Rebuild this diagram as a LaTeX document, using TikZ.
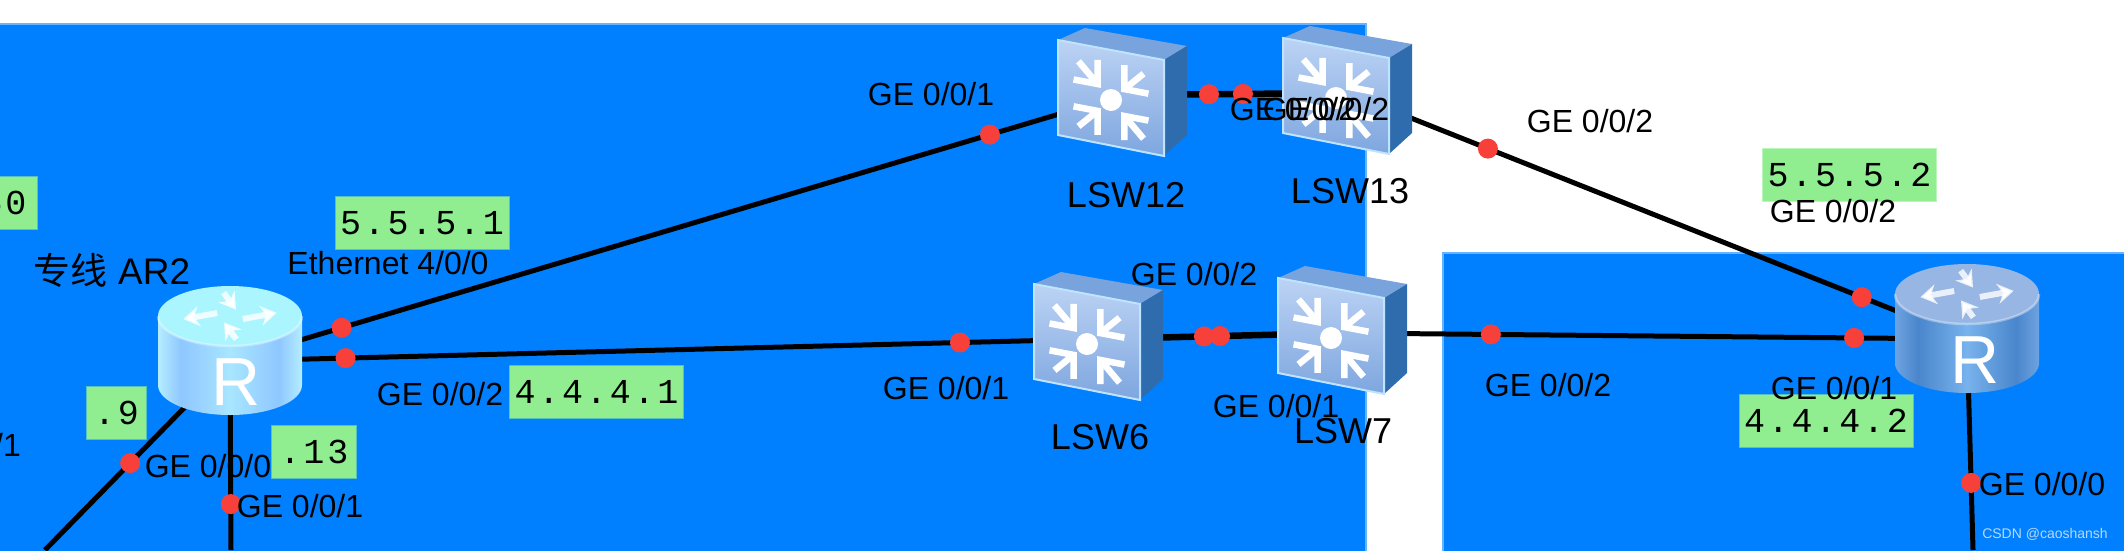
\documentclass[tikz,border=0pt]{standalone}
\usepackage{fontspec}
\setmainfont{Liberation Sans}
\newfontfamily\cjk{Noto Sans CJK SC}
\newfontfamily\ipfont[LetterSpace=8]{Liberation Mono}
\usetikzlibrary{arrows.meta,positioning}
\definecolor{areablue}{HTML}{0080FF}
\definecolor{areaedge}{HTML}{66B3FF}
\definecolor{ipgreen}{HTML}{90EE90}
\definecolor{portred}{HTML}{F8403A}
\definecolor{swtop}{HTML}{78A3DC}
\definecolor{swside}{HTML}{2E6CAE}
\definecolor{swhigh}{HTML}{BCD3F4}
\definecolor{swlow}{HTML}{7EA6DF}
\definecolor{swrim}{HTML}{BFE4FF}
\definecolor{hotcap}{HTML}{ABF5FF}
\definecolor{coolcap}{HTML}{97B6E4}
\pgfdeclarehorizontalshading{hotbody}{100bp}{
  rgb(0bp)=(.71,.93,1); rgb(25bp)=(.71,.93,1); rgb(33bp)=(.56,.78,1);
  rgb(50bp)=(.66,.90,1); rgb(67bp)=(.56,.78,1); rgb(75bp)=(.71,.93,1); rgb(100bp)=(.71,.93,1)}
\pgfdeclarehorizontalshading{coolbody}{100bp}{
  rgb(0bp)=(.43,.64,.88); rgb(25bp)=(.43,.64,.88); rgb(33bp)=(.29,.525,.8);
  rgb(50bp)=(.47,.70,.93); rgb(67bp)=(.29,.525,.8); rgb(75bp)=(.43,.64,.88); rgb(100bp)=(.43,.64,.88)}
\tikzset{
  area/.style    = {fill=areablue, draw=areaedge, line width=2.5pt},
  hub/.style     = {circle, inner sep=0pt, minimum size=1pt},
  link/.style    = {draw=black, line width=5pt},
  fatlink/.style = {link, line width=6.5pt},
  port/.style    = {circle, fill=portred, inner sep=0pt, minimum size=20pt},
  ipbox/.style   = {rectangle, fill=ipgreen, draw=ipgreen, draw opacity=0.6, line width=2pt,
                    minimum width=173pt, minimum height=52pt, inner sep=0pt,
                    font=\ipfont\fontsize{35}{38}\selectfont},
  iflab/.style   = {inner sep=0pt, font=\fontsize{32}{36}\selectfont},
  devlab/.style  = {inner sep=0pt, font=\fontsize{36}{40}\selectfont},
  pics/switchicon/.style = {code={
    \fill[swtop] (-65,-55) -- (-38,-67) -- (64,-49) -- (41,-35) -- cycle;
    \fill[swside] (41,-35) -- (64,-49) -- (64,40) -- (41,61) -- cycle;
    \shade[top color=swhigh, bottom color=swlow, draw=swrim, line width=2pt]
      (-65,-55) -- (41,-35) -- (41,61) -- (-65,40) -- cycle;
    \foreach \ang in {45,135,225,315} {
      \begin{scope}[cm={1,-0.19,0,1,(-12,5)}, rotate=\ang]
        \draw[white, line width=6.5pt] (19,0) -- (46,0);
        \draw[white, line width=6.5pt] (36,17) -- (19,0) -- (36,-17);
      \end{scope}
    }
    \fill[white] (-12,5) circle[radius=11];
  }},
  pics/routericon/.style n args={3}{code={
    \shade[shading=#2]
      (-72,-45) -- (-72,24) arc[start angle=180, end angle=0, x radius=72, y radius=30]
      -- (72,-45) -- cycle;
    \fill[#1] (0,-45) ellipse[x radius=72, y radius=30];
    \draw[white, draw opacity=0.35, line width=2.5pt]
      (-72,-45) arc[start angle=180, end angle=0, x radius=72, y radius=30];
    \begin{scope}[cm={1,0,0,0.5,(0,-45)}]
      \foreach \ang/\from/\to in {20/10/46, 110/46/10, 200/10/46, 290/46/10} {
        \draw[white, draw opacity=0.8, line width=6pt, -{Stealth[length=16pt,width=20pt]}, rotate=\ang]
          (\from,10) -- (\to,10);
      }
    \end{scope}
    \node[text=white, inner sep=0pt, font=\fontsize{68}{70}\selectfont] (-letter) at (#3,21) {R};
  }}
}
\begin{document}
\begin{tikzpicture}[x=1pt, y=-1pt]
  \clip (0,0) rectangle (2124,550);
  % ===================== areas =====================
  \path[area] (-10,24) rectangle (1366,570);
  \path[area] (1443,253) rectangle (2140,570);

  % ===================== device hubs =====================
  \node[hub] (ar2) at (230,361) {};
  \node[hub] (lsw12) at (1123,95) {};
  \node[hub] (lsw13) at (1348,93) {};
  \node[hub] (lsw6) at (1099,339) {};
  \node[hub] (lsw7) at (1343,333) {};
  \node[hub] (ar3) at (1967,339) {};
  \coordinate (ar2sw) at (45,550);
  \coordinate (ar2s) at (231,550);
  \coordinate (ar3s) at (1973,550);

  % ===================== links =====================
  \draw[link] (ar2.center) -- node[port, pos=0.125] (p1) {} node[port, pos=0.851] (p2) {} (lsw12.center);
  \draw[fatlink] (lsw12.center) -- node[port, pos=0.382] (p3) {} node[port, pos=0.533] (p4) {} (lsw13.center);
  \draw[link] (lsw13.center) -- node[port, pos=0.226] (p5) {} node[port, pos=0.830] (p6) {} (ar3.center);
  \draw[link] (ar2.center) -- node[port, pos=0.133] (p7) {} node[port, pos=0.840] (p8) {} (lsw6.center);
  \draw[fatlink] (lsw6.center) -- node[port, pos=0.430] (p9) {} node[port, pos=0.496] (p10) {} (lsw7.center);
  \draw[link] (lsw7.center) -- node[port, pos=0.237] (p11) {} node[port, pos=0.819] (p12) {} (ar3.center);
  \draw[link] (ar2.center) -- node[port, pos=0.54] (p13) {} (ar2sw);
  \draw[link] (ar2.center) -- node[port, pos=0.757] (p14) {} (ar2s);
  \draw[link] (ar3.center) -- node[port, pos=0.682] (p15) {} (ar3s);

  % ===================== devices =====================
  \pic (ar2icon) at (ar2) {routericon={hotcap}{hotbody}{6}};
  \pic (ar3icon) at (ar3) {routericon={coolcap}{coolbody}{8}};
  \pic (lsw12icon) at (lsw12) {switchicon};
  \pic (lsw13icon) at (lsw13) {switchicon};
  \pic (lsw6icon) at (lsw6) {switchicon};
  \pic (lsw7icon) at (lsw7) {switchicon};

  % ===================== addresses =====================
  \node[ipbox, minimum width=66pt] (ip50) at (4,202.5) {50};
  \node[ipbox] (ip551) at (422,223) {5.5.5.1};
  \node[ipbox] (ip441) at (596.5,391.5) {4.4.4.1};
  \node[ipbox, minimum width=59pt] (ip9) at (116.5,412.5) {.9};
  \node[ipbox, minimum width=84pt] (ip13) at (314,451.5) {.13};
  \node[ipbox] (ip552) at (1849.5,175) {5.5.5.2};
  \node[ipbox] (ip442) at (1826,421) {4.4.4.2};

  % ===================== labels =====================
  \node[devlab, font=\fontsize{37}{40}\selectfont] (ar2name) at (112,270) {{\cjk 专线} AR2};
  \node[devlab] (lsw12name) at (1126,195) {LSW12};
  \node[devlab] (lsw13name) at (1350,191) {LSW13};
  \node[devlab] (lsw6name) at (1100,437) {LSW6};
  \node[devlab] (lsw7name) at (1343,431) {LSW7};

  \node[iflab] (if1) at (388,263) {Ethernet 4/0/0};
  \node[iflab] (if2) at (440,394) {GE 0/0/2};
  \node[iflab] (if3) at (208,466) {GE 0/0/0};
  \node[iflab] (if4) at (300,506) {GE 0/0/1};
  \node[iflab, anchor=east] (if5) at (21,445) {/1};
  \node[iflab] (if6) at (931,94) {GE 0/0/1};
  \node[iflab] (if7) at (1293,109) {GE 0/0/2};
  \node[iflab] (if8) at (1326,109) {GE 0/0/2};
  \node[iflab] (if9) at (1194,274) {GE 0/0/2};
  \node[iflab] (if10) at (946,388) {GE 0/0/1};
  \node[iflab] (if11) at (1276,406) {GE 0/0/1};
  \node[iflab] (if12) at (1590,121) {GE 0/0/2};
  \node[iflab] (if13) at (1833,211) {GE 0/0/2};
  \node[iflab] (if14) at (1548,385) {GE 0/0/2};
  \node[iflab] (if15) at (1834,388) {GE 0/0/1};
  \node[iflab] (if16) at (2042,484) {GE 0/0/0};
  \node[inner sep=0pt, text=white, text opacity=0.7, font=\fontsize{14}{16}\selectfont] (mark) at (2045,534) {CSDN @caoshansh};
\end{tikzpicture}
\end{document}
